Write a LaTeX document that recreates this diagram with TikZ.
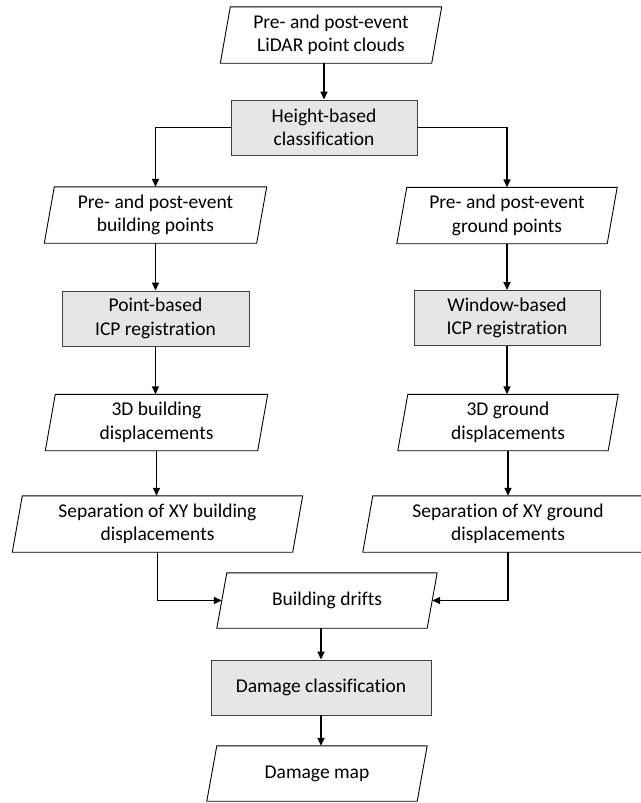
\documentclass[tikz,border=0pt]{standalone}
\usepackage{fontspec}
\setmainfont{Carlito}[Ligatures=NoCommon]
\usetikzlibrary{arrows.meta,calc}
\definecolor{boxfill}{HTML}{E7E6E6}
\definecolor{boxline}{HTML}{404040}
\tikzset{
  txt/.style={font=\fontsize{19.5}{23.5}\selectfont, align=center, inner sep=0pt},
  io/.style={txt, draw=none, minimum height=56pt},
  proc/.style={txt, draw=boxline, line width=0.9pt, fill=boxfill, minimum height=55pt},
  arr/.style={line width=1.5pt, -{Triangle[length=8pt,width=7pt]}},
  ioline/.style={line width=0.9pt, draw=black}
}
\begin{document}
\begin{tikzpicture}[x=1pt,y=-1pt]
\useasboundingbox (0,0) rectangle (640,803);
% input/output nodes (rectangles at mid-slant; parallelograms drawn below)
\node[io, minimum width=211pt] (in) at (331,35) {Pre- and post-event\\LiDAR point clouds};
\node[proc, minimum width=186pt] (hb) at (324,127.5) {Height-based\\classification};
\node[io, minimum width=212pt] (bp) at (155.5,215) {Pre- and post-event\\building points};
\node[io, minimum width=210pt] (gp) at (507,215.5) {Pre- and post-event\\ground points};
\node[proc, minimum width=187pt] (pb) at (155.5,318.5) {Point-based\\ICP registration};
\node[proc, minimum width=186pt] (wb) at (507,318) {Window-based\\ICP registration};
\node[io, minimum width=212pt] (bd) at (156.5,422.5) {3D building\\displacements};
\node[io, minimum width=210pt] (gd) at (508,422.5) {3D ground\\displacements};
\node[io, minimum width=280pt] (bs) at (157.5,524) {Separation of XY building\\displacements};
\node[io, minimum width=280pt] (gs) at (508,524) {Separation of XY ground\\displacements};
\node[io, minimum width=210pt, minimum height=55pt] (dr) at (327,600.5) {Building drifts};
\node[proc, minimum width=220pt] (dc) at (321,687.5) {Damage classification};
\node[io, minimum width=210pt, minimum height=55pt] (dm) at (317,773.5) {Damage map};
% parallelogram outlines
\foreach \n in {in,bp,gp,bd,gd,bs,gs,dr,dm}
  \draw[ioline] ([xshift=5pt]\n.north west) -- ([xshift=5pt]\n.north east)
     -- ([xshift=-5pt]\n.south east) -- ([xshift=-5pt]\n.south west) -- cycle;
% connectors
\draw[arr] (in.south -| hb.north) -- (hb.north);
\draw[arr] (hb.west) -| (bp.north);
\draw[arr] (hb.east) -| (gp.north);
\draw[arr] (bp.south) -- (pb.north);
\draw[arr] (gp.south) -- (wb.north);
\draw[arr] (pb.south) -- (pb.south |- bd.north);
\draw[arr] (wb.south) -- (wb.south |- gd.north);
\draw[arr] (bd.south) -- (bd.south |- bs.north);
\draw[arr] (gd.south) -- (gd.south |- gs.north);
\draw[arr] (bs.south) |- (dr.west);
\draw[arr] (gs.south) |- (dr.east);
\draw[arr] (dr.south -| dc.north) -- (dc.north);
\draw[arr] (dc.south) -- (dc.south |- dm.north);
\end{tikzpicture}
\end{document}
